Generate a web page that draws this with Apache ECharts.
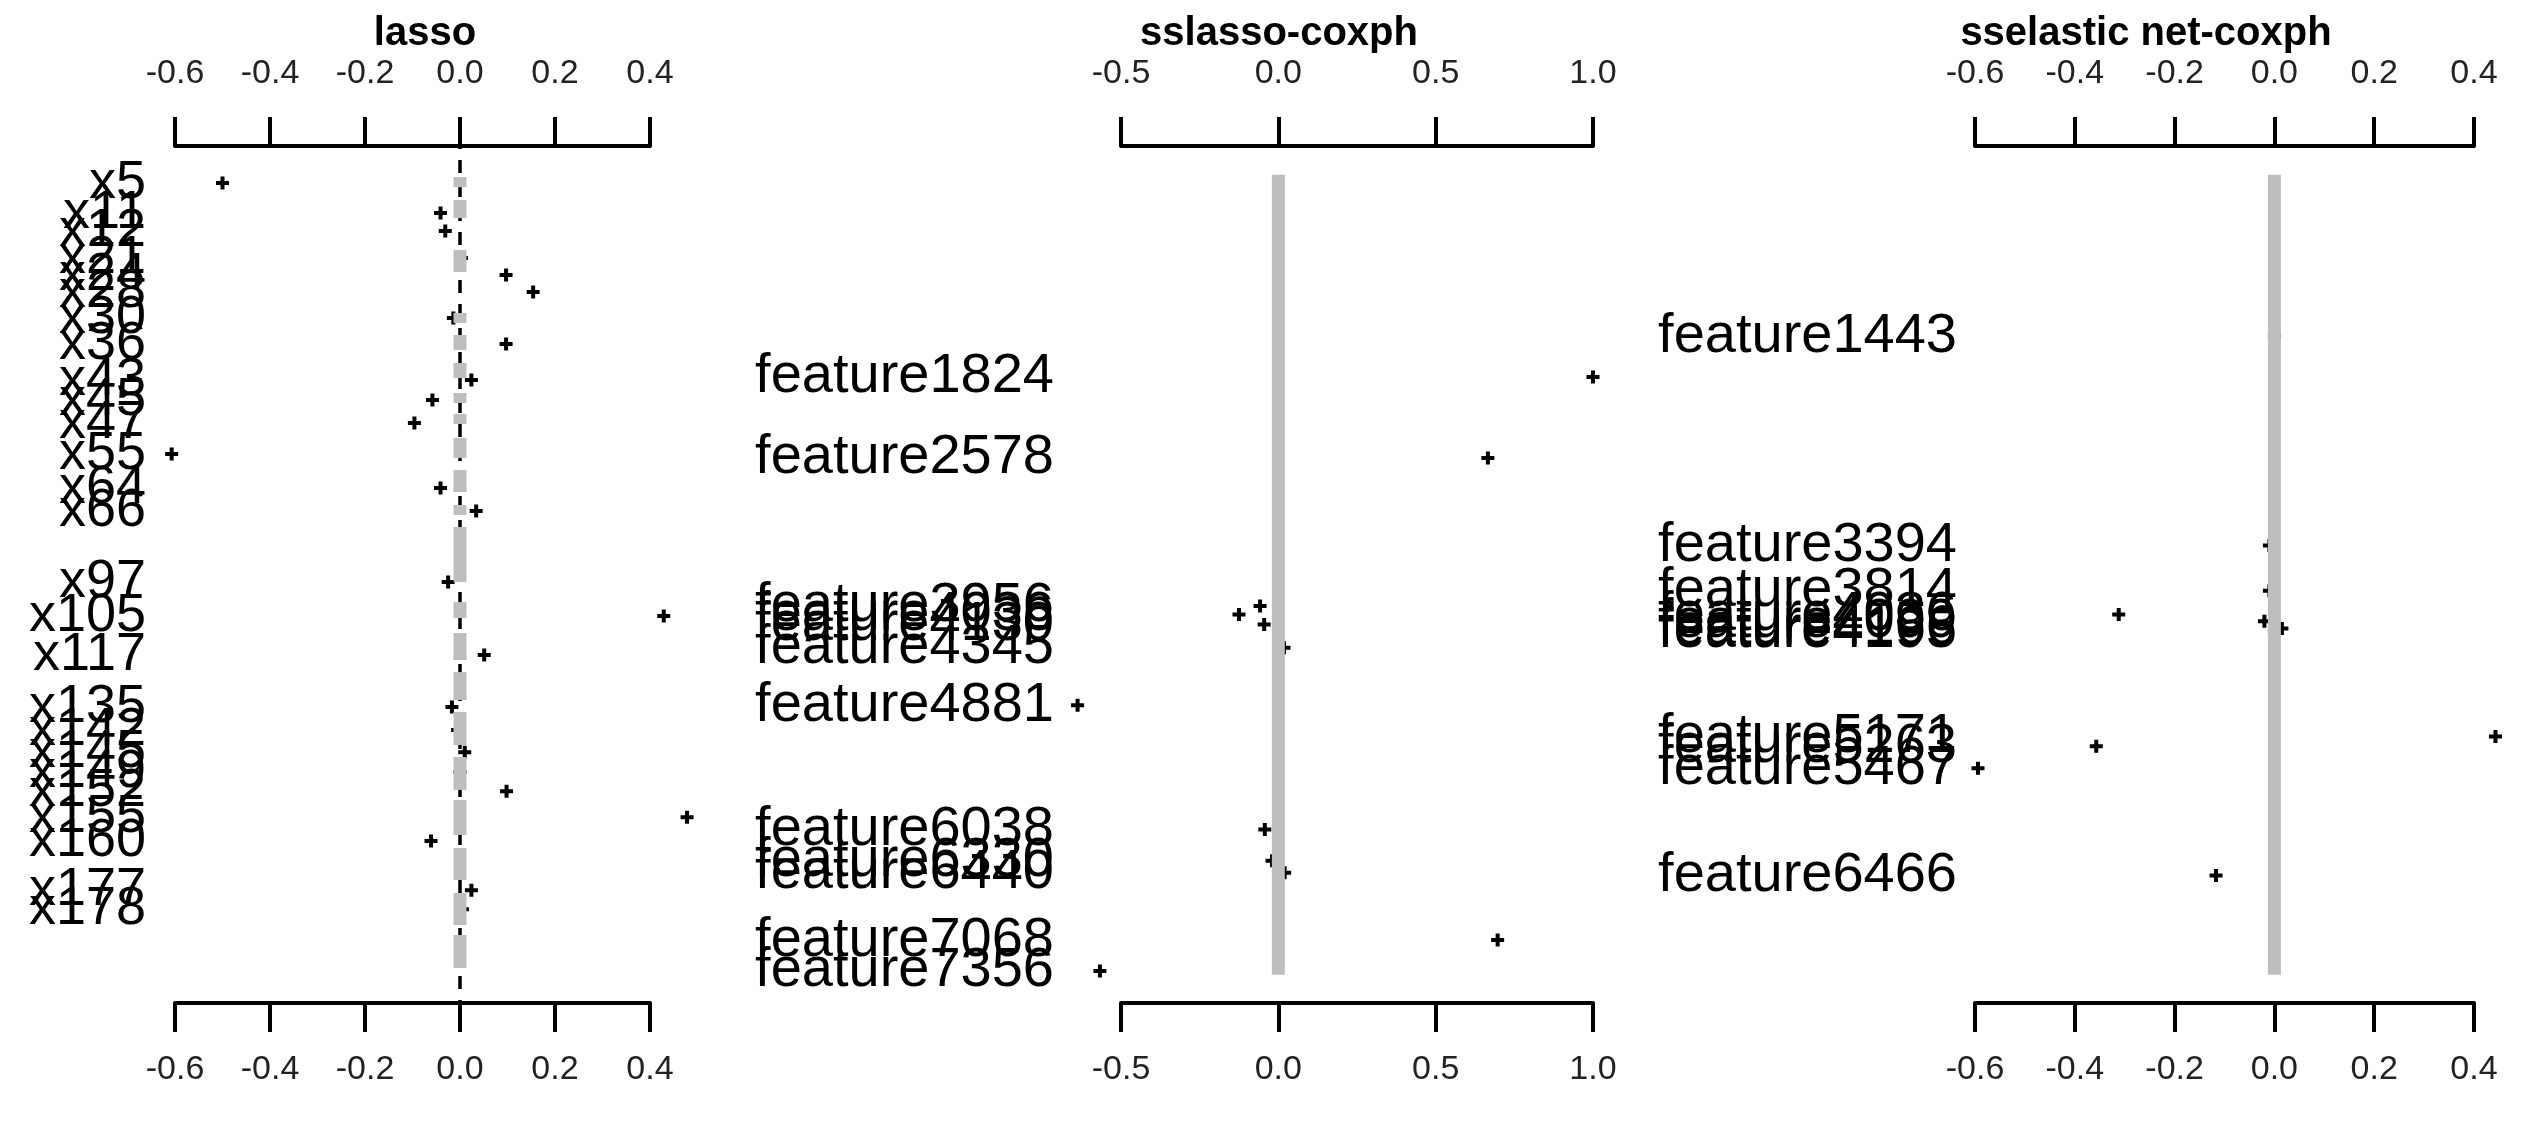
<!DOCTYPE html>
<html><head><meta charset="utf-8">
<script src="https://cdn.jsdelivr.net/npm/echarts@6/dist/echarts.min.js"></script>
<style>html,body{margin:0;padding:0;background:#fff}#c{width:2536px;height:1141px}</style>
</head><body><div id="c"></div>
<script>
// ---- data ----
// y = feature index (shared vertical scale for all three panels)
const yRange = [-327, 7654];

const lassoNames = ['x5','x11','x12','x21','x24','x28','x30','x36','x43','x45','x47','x55','x64','x66',
  'x97','x105','x117','x135','x142','x145','x149','x152','x155','x160','x177','x178'];
const lassoCoef = [-0.50,-0.041,-0.031,0.003,0.097,0.154,-0.014,0.097,0.024,-0.058,-0.096,-0.607,-0.041,0.034,
  -0.025,0.429,0.051,-0.017,-0.005,0.010,0.000,0.098,0.478,-0.061,0.024,0.005];
const lassoPos = [18,297,465,716,875,1033,1275,1518,1853,2039,2253,2542,2859,3073,
  3733,4051,4414,4898,5112,5318,5504,5681,5923,6146,6603,6780];
const lassoTicks = [-0.6,-0.4,-0.2,0.0,0.2,0.4];
// stretches of zero-coefficient features drawn in grey (feature-index extents)
const lassoZeroRuns = [[-38,57],[176,344],[642,846],[1228,1321],[1433,1573],[1694,1834],[1973,2066],
  [2169,2262],[2392,2578],[2690,2895],[3016,3109],[3221,3733],[3920,4069],[4209,4460],[4572,4832],
  [4944,5251],[5363,5670],[5763,6089],[6210,6509],[6630,6928],[7021,7328]];

const ssNames = ['feature1824','feature2578','feature3956','feature4036','feature4130','feature4345',
  'feature4881','feature6038','feature6330','feature6440','feature7068','feature7356'];
const ssCoef = [1.00,0.666,-0.058,-0.125,-0.045,0.018,-0.638,-0.043,-0.020,0.020,0.697,-0.567];
const ssPos = [1824,2578,3956,4036,4130,4345,4881,6038,6330,6440,7068,7356];
const ssTicks = [-0.5,0.0,0.5,1.0];
const ssZeroRuns = [[-60,7390]];

const seNames = ['feature1443','feature3394','feature3814','feature4036','feature4099','feature4166',
  'feature4195','feature5171','feature5263','feature5467','feature6466'];
const seCoef = [0.000,-0.010,-0.010,-0.312,-0.020,0.015,0.000,0.443,-0.357,-0.594,-0.117];
const sePos = [1443,3394,3814,4036,4099,4166,4195,5171,5263,5467,6466];
const seTicks = [-0.6,-0.4,-0.2,0.0,0.2,0.4];
const seZeroRuns = [[-60,7390]];

// ---- layout / style ----
const FONT = '"Liberation Sans", Arial, sans-serif';
const panels = [
  {title:'lasso', names:lassoNames, coef:lassoCoef, pos:lassoPos, ticks:lassoTicks, runs:lassoZeroRuns,
   dashed:true, left:175, width:475, labelGap:29, labelFont:54, titleX:425},
  {title:'sslasso-coxph', names:ssNames, coef:ssCoef, pos:ssPos, ticks:ssTicks, runs:ssZeroRuns,
   dashed:false, left:1121, width:472, labelGap:67, labelFont:56, titleX:1279},
  {title:'sselastic net-coxph', names:seNames, coef:seCoef, pos:sePos, ticks:seTicks, runs:seZeroRuns,
   dashed:false, left:1975, width:499, labelGap:18, labelFont:56, titleX:2146}
];
const PLUS = 'path://M4.5,0h4v4.5h4.5v4h-4.5v4.5h-4v-4.5h-4.5v-4h4.5z';

const grids = [], xAxes = [], yAxes = [], series = [], graphics = [];
panels.forEach((p, i) => {
  grids.push({left:p.left, width:p.width, top:146, height:857, containLabel:false, outerBoundsMode:'none'});
  const t = p.ticks;
  const axisBase = (pos, margin) => ({
    gridIndex:i, type:'value', position:pos, min:t[0], max:t[t.length-1], interval:t[1]-t[0],
    axisLine:{show:true, onZero:false, lineStyle:{color:'#000', width:4}},
    axisTick:{show:true, inside:false, length:29, lineStyle:{color:'#000', width:4}},
    axisLabel:{show:true, margin:margin, fontSize:34, fontFamily:FONT, color:'#222',
      formatter:v => (Math.abs(v) < 1e-9 ? 0 : v).toFixed(1)},
    splitLine:{show:false}
  });
  xAxes.push(axisBase('top', 55));
  xAxes.push(axisBase('bottom', 50));
  yAxes.push({gridIndex:i, type:'value', inverse:true, min:yRange[0], max:yRange[1], show:false});

  if (p.dashed) {
    series.push({
      type:'custom', xAxisIndex:2*i, yAxisIndex:i, z:1, silent:true, data:[[0,0]],
      renderItem:(params, api) => {
        const c = api.coord([0, 0]); const cs = params.coordSys;
        return {type:'line', shape:{x1:c[0], y1:cs.y, x2:c[0], y2:cs.y+cs.height},
          style:{stroke:'#000', lineWidth:3.5, lineDash:[13,11], lineDashOffset:10}};
      }
    });
  }
  series.push({
    type:'scatter', xAxisIndex:2*i, yAxisIndex:i, z:2, silent:true, clip:false,
    symbol:PLUS, symbolSize:13, itemStyle:{color:'#000', opacity:1},
    data:p.coef.map((c, k) => [c, p.pos[k]])
  });
  series.push({
    type:'custom', xAxisIndex:2*i, yAxisIndex:i, z:3, silent:true,
    data:p.runs.map(r => [0, r[0], r[1]]),
    renderItem:(params, api) => {
      const a = api.coord([0, api.value(1)]), b = api.coord([0, api.value(2)]);
      return {type:'rect', shape:{x:a[0]-6.5, y:Math.min(a[1],b[1]), width:13, height:Math.abs(b[1]-a[1])},
        style:{fill:'#bebebe'}};
    }
  });
  series.push({
    type:'custom', xAxisIndex:2*i, yAxisIndex:i, z:4, silent:true,
    data:p.pos.map(v => [0, v]),
    renderItem:(params, api) => {
      const c = api.coord([0, api.value(1)]); const cs = params.coordSys;
      return {type:'text', x:cs.x - p.labelGap, y:c[1],
        style:{text:p.names[params.dataIndex], fill:'#000', font:p.labelFont + 'px ' + FONT,
          align:'right', verticalAlign:'middle', textAlign:'right', textVerticalAlign:'middle'}};
    }
  });
  graphics.push({type:'text', x:p.titleX, y:34, silent:true,
    style:{text:p.title, fill:'#000', font:'bold 40px ' + FONT,
      align:'center', verticalAlign:'middle', textAlign:'center', textVerticalAlign:'middle'}});
});

const chart = echarts.init(document.getElementById('c'), null, {renderer:'canvas'});
chart.setOption({
  animation:false, backgroundColor:'#fff',
  grid:grids, xAxis:xAxes, yAxis:yAxes, series:series, graphic:graphics
});
</script>
</body></html>
